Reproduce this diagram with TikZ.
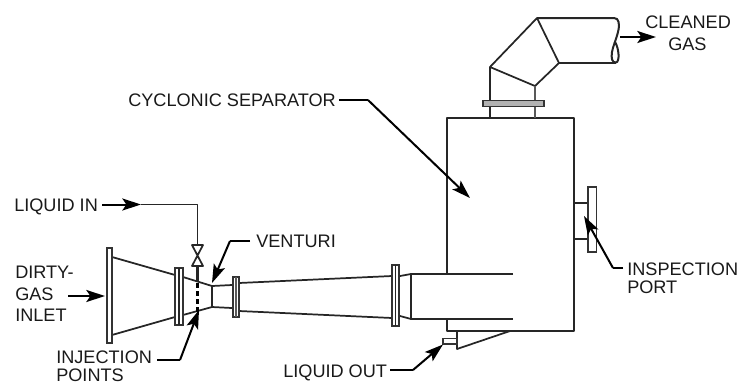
\documentclass[tikz,border=0pt]{standalone}
\usepackage{fontspec}
\setmainfont{Liberation Sans}
\usetikzlibrary{arrows.meta}
\tikzset{
  pipe/.style={line width=1.3pt,draw=black!85,line join=round},
  flange/.style={line width=1.3pt,draw=black!80,fill=white},
  lbl/.style={inner sep=0pt,anchor=base west,font=\fontsize{13.6}{15}\selectfont,text=black!90},
  lead/.style={line width=1.5pt,draw=black,-{Stealth[length=14pt,width=9pt,inset=3pt]}},
  plain/.style={line width=1.5pt,draw=black}
}
\begin{document}
\begin{tikzpicture}[x=0.75pt,y=-0.75pt]
\useasboundingbox (0,0) rectangle (739,383);
% labels
\node[lbl] (clean1) at (645,28) {CLEANED};
\node[lbl] (clean2) at (668,50) {GAS};
\node[lbl] (cyc) at (128,106) {CYCLONIC SEPARATOR};
\node[lbl] (liq) at (14,211) {LIQUID IN};
\node[lbl] (vent) at (256,247.5) {VENTURI};
\node[lbl] (d1) at (15,278) {DIRTY-};
\node[lbl] (d2) at (15,300) {GAS};
\node[lbl] (d3) at (15,321.5) {INLET};
\node[lbl] (insp1) at (627,275) {INSPECTION};
\node[lbl] (insp2) at (627,293) {PORT};
\node[lbl] (inj1) at (56,363.5) {INJECTION};
\node[lbl] (inj2) at (56,381) {POINTS};
\node[lbl] (out) at (283,377) {LIQUID OUT};
% vessel
\draw[pipe] (447,274) -- (447,118) -- (574,118) -- (574,331) -- (447,331) -- (447,319);
\draw[pipe] (457,331) -- (457,349) -- (510,331);
\draw[flange,line width=1pt] (443,338.5) rectangle (457,344);
% inlet tube
\draw[pipe] (513,274) -- (411,274) -- (411,319) -- (513,319);
\draw[pipe] (400,276) -- (411,274) (400,316) -- (411,319);
% diffuser
\draw[pipe] (239,283) -- (392,276) (239,311) -- (392,318);
% throat and cones
\draw[pipe] (112,257) -- (175,275) (112,335) -- (175,317);
\draw[pipe] (183,277) -- (212,286) -- (232,285) (183,315) -- (212,307) -- (232,308);
\draw[pipe] (212,286) -- (212,307);
% flanges
\draw[flange] (107,248) rectangle (112,343);
\draw[flange] (175,268) rectangle (183,325);
\draw[pipe] (179,268) -- (179,325);
\draw[flange] (233,277) rectangle (239,317);
\draw[pipe,line width=1.8pt,black!65] (236,277) -- (236,317);
\draw[flange] (392,265) rectangle (399,326);
\draw[pipe] (395.5,265) -- (395.5,326);
% top duct
\draw[pipe] (490,118) -- (490,67) -- (537,18) -- (559,63) -- (535,86) -- (490,67);
\draw[pipe,black!65] (535,86) -- (535,118);
\draw[pipe,line width=1.5pt] (537,18) -- (614,18) .. controls (619,18) and (620,24) .. (618,32) .. controls (616,40) and (613,46) .. (612,52) .. controls (611,58) and (612,63) .. (616,62.5) .. controls (620,62) and (619,48) .. (615,42);
\draw[pipe,line width=1.5pt] (559,63) -- (616,63);
\draw[flange,fill=black!30] (483,100.5) rectangle (544,106.5);
% inspection port
\draw[pipe] (574,203) -- (588,203) (574,239) -- (588,239);
\draw[flange,line width=1.2pt] (588,187) rectangle (596.5,252);
% liquid feed and valve
\coordinate (feedmid) at (141,204.5);
\coordinate (feedcorner) at (197.5,204.5);
\coordinate (valvetop) at (197.5,245);
\draw[pipe] (feedmid) -- (feedcorner) -- (valvetop);
\draw[lead] (liq.base east) ++(4,-6.5) -- (feedmid);
\draw[pipe] (192,245) -- (203,245) -- (192,266) -- (203,266) -- cycle;
\draw[line width=1.8pt,black!85] (197.5,266) -- (197.5,281);
\draw[line width=2pt,black,dash pattern=on 3.5pt off 2.6pt] (197.5,283) -- (197.5,312);
% leaders
\coordinate (a0) at (620,37);
\coordinate (a1) at (656,37);
\draw[lead] (a0) -- (a1);
\coordinate (c1) at (368,100);
\coordinate (c2) at (470,198);
\draw[plain] (cyc.base east) ++(3,-6) -- (c1);
\draw[lead] (c1) -- (c2);
\coordinate (v1) at (230,241);
\coordinate (v2) at (212,283);
\draw[plain] (vent.base west) ++(-6,-6.5) -- (v1);
\draw[lead] (v1) -- (v2);
\coordinate (g1) at (68,296);
\coordinate (g2) at (105,296);
\draw[lead] (g1) -- (g2);
\coordinate (i1) at (180,360);
\coordinate (i2) at (199,310);
\draw[plain] (inj1.base east) ++(5,-3.5) -- (i1);
\draw[lead] (i1) -- (i2);
\coordinate (o1) at (413,370);
\coordinate (o2) at (443,344.5);
\draw[plain] (out.base east) ++(3,-7) -- (o1);
\draw[lead] (o1) -- (o2);
\coordinate (p1) at (613,268);
\coordinate (p2) at (584,216);
\draw[plain] (insp1.base west) ++(-4,-7) -- (p1);
\draw[lead] (p1) -- (p2);
\end{tikzpicture}
\end{document}
